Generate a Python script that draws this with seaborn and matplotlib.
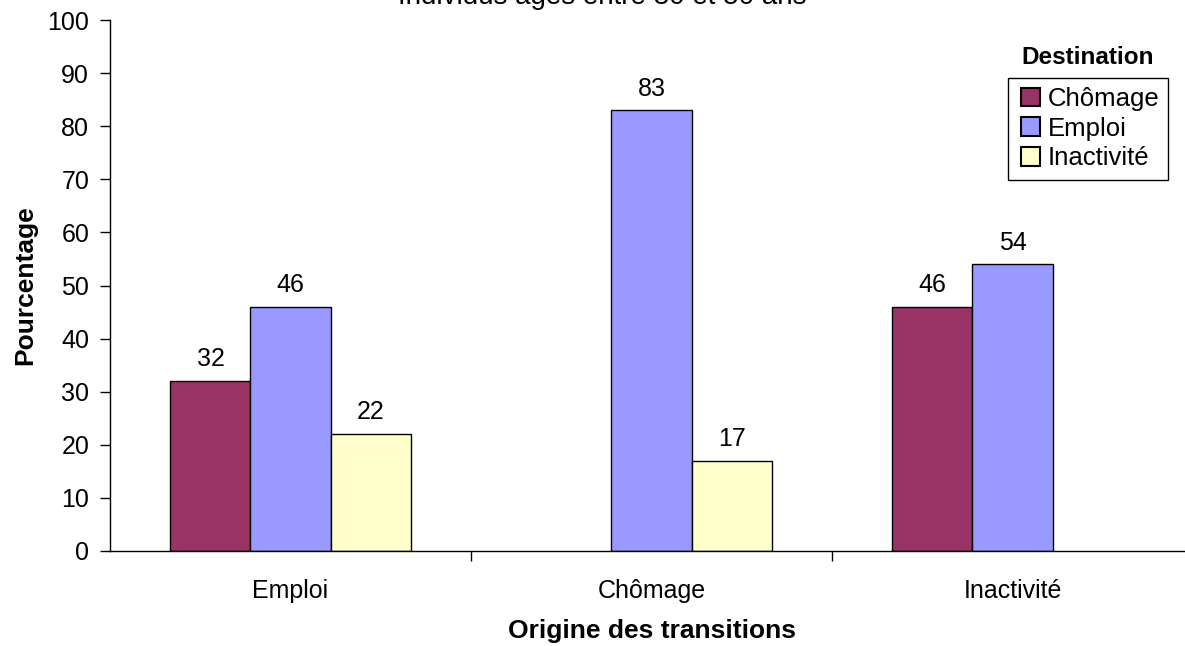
import matplotlib
matplotlib.use("Agg")
import matplotlib.pyplot as plt
import pandas as pd
import seaborn as sns

# Transitions on the labour market, by origin and destination (%)
origins = ["Emploi", "Chômage", "Inactivité"]
destinations = ["Chômage", "Emploi", "Inactivité"]
to_chomage = [32, None, 46]
to_emploi = [46, 83, 54]
to_inactivite = [22, 17, None]
palette = ["#993366", "#9999FF", "#FFFFCC"]
y_ticks = list(range(0, 101, 10))

rows = []
for dest, vals in zip(destinations, [to_chomage, to_emploi, to_inactivite]):
    for orig, v in zip(origins, vals):
        if v is not None:
            rows.append({"Origine": orig, "Destination": dest, "Pourcentage": v})
df = pd.DataFrame(rows)

sns.set_theme(style="white")
plt.rcParams["font.family"] = ["Liberation Sans", "DejaVu Sans"]
plt.rcParams.update({"text.color": "black", "axes.labelcolor": "black",
                     "xtick.color": "black", "ytick.color": "black"})

W, H = 1185, 646
fig = plt.figure(figsize=(W / 100, H / 100), dpi=100)
ax = fig.add_axes([110 / W, 1 - 551 / H, (1193 - 110) / W, (551 - 20) / H])

sns.barplot(data=df, x="Origine", y="Pourcentage", hue="Destination",
            order=origins, hue_order=destinations, palette=palette,
            width=0.665, edgecolor="black", linewidth=1, saturation=1,
            errorbar=None, legend=False, ax=ax)

for cont in ax.containers:
    ax.bar_label(cont, fmt="%g", padding=7, fontsize=18, color="black")

ax.set_xlim(-0.5, 2.5)
ax.set_ylim(0, 100)
ax.set_yticks(y_ticks)
ax.tick_params(axis="y", direction="out", length=7, width=1, color="black",
               labelsize=18, pad=8, left=True)
ax.set_xticks(range(len(origins)))
ax.set_xticklabels(origins, fontsize=18)
ax.set_xticks([0.5, 1.5], minor=True)
ax.tick_params(axis="x", which="major", length=0, pad=20)
ax.tick_params(axis="x", which="minor", direction="out", length=7, width=1,
               color="black", bottom=True)
for side in ["top", "right"]:
    ax.spines[side].set_visible(False)
for side in ["left", "bottom"]:
    ax.spines[side].set_color("black")
    ax.spines[side].set_linewidth(1)

ax.set_xlabel("Origine des transitions", fontsize=19, fontweight="bold", labelpad=12)
ax.set_ylabel("Pourcentage", fontsize=19, fontweight="bold", labelpad=7)

fig.text(602 / W, 1 - 4 / H, "Individus âgés entre 30 et 50 ans", ha="center",
         va="baseline", fontsize=20)

# Legend entries without a frame; the box is drawn as its own outline
handles = [plt.Rectangle((0, 0), 1, 1, facecolor=c, edgecolor="black", linewidth=1.5)
           for c in palette]
leg = ax.legend(handles, destinations, loc="upper left",
                bbox_to_anchor=(1021 / W, 1 - 87 / H), bbox_transform=fig.transFigure,
                fontsize=18.5, frameon=False, handlelength=0.75,
                handleheight=0.75, handletextpad=0.3, borderpad=0,
                labelspacing=0.22, borderaxespad=0)
box = plt.Rectangle((1008 / W, 1 - 180 / H), 160 / W, 102 / H,
                    transform=fig.transFigure, facecolor="none",
                    edgecolor="black", linewidth=1)
fig.patches.append(box)
fig.text(1088 / W, 1 - 58 / H, "Destination", ha="center", va="center",
         fontsize=17.5, fontweight="bold")

fig.savefig("out.png", dpi=100)
